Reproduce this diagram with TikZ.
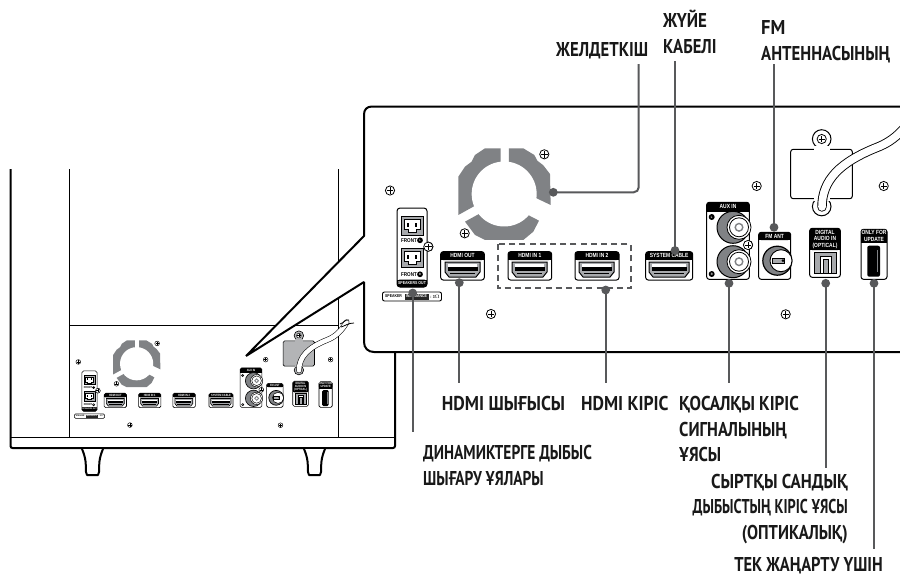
\documentclass[tikz,border=0pt]{standalone}
\usepackage{graphicx}
\usepackage{fontspec}
\newfontfamily\labf{PT Sans}[FakeStretch=0.77]
\newfontfamily\portf{Liberation Sans}[FakeStretch=0.82]
\definecolor{leader}{HTML}{58595B}
\definecolor{fangray}{HTML}{808285}
\definecolor{portgray}{HTML}{A7A9AC}
\def\pk{1}
\def\platefill{white}
\newcommand\wline[2]{\scalebox{#1}[1]{#2}}
\tikzset{
  lbl/.style={inner sep=0pt,font=\labf\bfseries\fontsize{20}{25.5}\selectfont,text=black!90},
  lead/.style={draw=leader,line width=2pt},
  leaddot/.style={fill=leader,draw=none},
  ink/.style={draw=black,line width=\pk*1pt},
  heavy/.style={draw=black,line width=2pt},
  thin/.style={draw=black,line width=1pt},
  porttext/.style={inner sep=0pt,text=white,font=\portf\bfseries\fontsize{6}{6.6}\selectfont,align=center},
  inktext/.style={inner sep=0pt,text=black,font=\portf\bfseries\fontsize{5.6}{6}\selectfont},
}
% box with a black title band: x1,y1,x2,y2,yband,name,text
\newcommand\portbox[7]{%
  \draw[ink,fill=white,rounded corners=\pk*2.5pt] (#1,#2) rectangle (#3,#4);
  \fill[black,rounded corners=\pk*2.5pt] (#1,#2) rectangle (#3,#5);
  \fill[black] (#1,#5-2.5) rectangle (#3,#5);
  \node[porttext,transform shape] (#6) at ({(#1+#3)/2},{(#2+#5)/2}) {#7};
}
% HDMI port, left x, right x, top y
\newcommand\hdmiport[3]{%
  \draw[draw=black,line width=\pk*1pt,fill=portgray]
     (#1,#3+1) -- (#2,#3+1) -- (#2,#3+11) -- (#2-4,#3+16) -- (#1+4,#3+16) -- (#1,#3+11) -- cycle;
  \fill[black] (#1+2.5,#3+6) rectangle (#2-2.5,#3+9.5);
  \fill[white] (#1+3,#3+3) rectangle (#2-3,#3+5.5);
  \fill[black] (#1+5,#3+12) rectangle (#2-5,#3+13);
}
% RCA jack
\newcommand\rcajack[2]{%
  \draw[draw=black,line width=\pk*1pt,fill=fangray] (#1,#2) circle (16);
  \draw[draw=black,line width=\pk*0.8pt,fill=white] (#1+6,#2) circle (12);
  \draw[draw=black,line width=\pk*0.8pt,fill=white] (#1+6,#2) circle (9.5);
  \draw[draw=fangray,line width=\pk*1.4pt,fill=white] (#1+6,#2) circle (3.8);
}
% speaker terminal
\newcommand\spkport[1]{%
  \draw[draw=black,line width=\pk*0.8pt,fill=portgray] (401,#1) rectangle (423,#1+18.5);
  \draw[draw=black,line width=\pk*0.6pt,fill=white] (404,#1+3) -- (420,#1+3) -- (420,#1+13) -- (416,#1+13) -- (416,#1+15.5) -- (408,#1+15.5) -- (408,#1+13) -- (404,#1+13) -- cycle;
  \fill[black] (407,#1+6) rectangle (409,#1+10);
  \fill[black] (415,#1+6) rectangle (417,#1+10);
}
\newcommand\screwmark[2]{%
  \draw[draw=black,line width=\pk*0.8pt,fill=white] (#1,#2) circle (4.6);
  \draw[draw=black,line width=\pk*0.8pt] (#1-3.2,#2) -- (#1+3.2,#2) (#1,#2-3.2) -- (#1,#2+3.2);
}
% everything on the rear panel, in the coordinates of the enlarged view
\newcommand\panelparts{%
  % fan
  \begin{scope}[shift={(440,100)},x=0.3333pt,y=-0.3333pt]
    \fill[fangray] (207,145) -- (250,145) -- (283,165) -- (292,182) -- (310,196) -- (330,222) -- (332,315) -- (290,295) -- (207,252) -- cycle;
    \fill[fangray] (182,145) -- (135,145) -- (105,165) -- (95,185) -- (75,200) -- (55,230) -- (55,345) -- (100,320) -- (182,275) -- cycle;
    \fill[fangray] (115,343) -- (190,303) -- (270,348) -- (297,362) -- (280,395) -- (250,420) -- (135,420) -- (105,405) -- (90,385) -- (75,365) -- cycle;
    \fill[white] (192.5,282) circle (97.5);
  \end{scope}
  % antenna plate and cable
  \draw[draw=black,line width=\pk*1pt,fill=\platefill] (821.7,139) circle (9.3);
  \draw[draw=black,line width=\pk*1pt,fill=\platefill] (821.7,206.5) circle (9.3);
  \draw[draw=black,line width=\pk*1pt,fill=\platefill,rounded corners=\pk*2.5pt] (790.7,149.3) rectangle (852.3,198.7);
  \fill[\platefill] (813.5,146) rectangle (830,152);
  \fill[\platefill] (813.5,196) rectangle (830,201);
  \draw[draw=black,line width=\pk*9.4pt,line cap=round] (822,207) .. controls (822,180) and (840,162) .. (878,147) .. controls (893,141) and (905,130) .. (915,113);
  \draw[draw=white,line width=\pk*7.6pt,line cap=round] (822,207) .. controls (822,180) and (840,162) .. (878,147) .. controls (893,141) and (905,130) .. (915,113);
  % screws
  \foreach \sx/\sy in {544.3/154.3,464.7/233.3,428.3/246.7,491/314,756.7/186,821.7/139,883.7/186,748/245,785.7/314.3,390/190.5}{\screwmark{\sx}{\sy}}
  % speaker output block
  \draw[draw=black,line width=\pk*1pt,fill=white,rounded corners=\pk*3pt] (397,208) rectangle (427,287);
  \spkport{216.5}
  \spkport{248.5}
  \node[inktext,transform shape] (frontl) at (409,240.3) {FRONT};
  \node[inktext,transform shape] (frontr) at (409,274.3) {FRONT};
  \fill[black] (420,240.3) circle (2.9);
  \fill[black] (420,274.3) circle (2.9);
  \node[porttext,transform shape,font=\portf\bfseries\fontsize{3}{3}\selectfont] (lmark) at (420,240.3) {L};
  \node[porttext,transform shape,font=\portf\bfseries\fontsize{3}{3}\selectfont] (rmark) at (420,274.3) {R};
  \fill[black,rounded corners=\pk*3pt] (397,279.5) rectangle (427,287);
  \fill[black] (397,279.5) rectangle (427,283);
  \node[porttext,transform shape,font=\portf\bfseries\fontsize{4.3}{4.3}\selectfont] (spkout) at (412,283) {SPEAKERS OUT};
  \screwmark{428.3}{246.7}
  \draw[draw=black,line width=\pk*0.9pt,fill=white,rounded corners=\pk*2pt] (382.5,292) rectangle (441.5,301);
  \fill[black!85] (404.5,293.5) rectangle (428.5,299.5);
  \node[inktext,transform shape,font=\portf\bfseries\fontsize{4.2}{4.2}\selectfont] (imp1) at (393.5,296.5) {SPEAKER};
  \node[porttext,transform shape,font=\portf\bfseries\fontsize{4.2}{4.2}\selectfont] (imp2) at (416.5,296.5) {IMPEDANCE};
  \node[inktext,transform shape,font=\portf\bfseries\fontsize{4.2}{4.2}\selectfont] (imp3) at (435,296.5) {: 3$\Omega$};
  % HDMI
  \portbox{440.7}{251.7}{484.3}{280}{260}{hdmiout}{HDMI OUT}
  \hdmiport{445}{480}{261}
  \portbox{508}{251.7}{551.7}{280}{260}{hdmione}{HDMI IN 1}
  \hdmiport{512}{547}{261}
  \portbox{575}{251.7}{619}{280}{260}{hdmitwo}{HDMI IN 2}
  \hdmiport{579}{614}{261}
  \portbox{645.7}{251.7}{692.7}{280}{260}{syscable}{SYSTEM CABLE}
  \hdmiport{649}{689}{261}
  % AUX
  \portbox{706.7}{202.3}{749.3}{279.3}{211.5}{auxin}{AUX IN}
  \rcajack{733}{227.3}
  \rcajack{733}{261.7}
  \fill[black] (711.7,217) circle (3);
  \fill[black] (711.7,274) circle (3);
  \node[porttext,transform shape,font=\portf\bfseries\fontsize{3.2}{3.2}\selectfont] (auxl) at (711.7,217) {L};
  \node[porttext,transform shape,font=\portf\bfseries\fontsize{3.2}{3.2}\selectfont] (auxr) at (711.7,274) {R};
  \screwmark{748}{245}
  % FM
  \portbox{758.7}{232.3}{790.7}{279.3}{240}{fmant}{FM ANT}
  \draw[draw=black,line width=\pk*1.2pt,fill=fangray] (777.3,260.7) circle (14.5);
  \draw[draw=black,line width=\pk*0.9pt,fill=white] (781,260.7) circle (11);
  \draw[draw=black,line width=\pk*0.7pt,fill=portgray] (772,258) rectangle (784,263.4);
  \fill[black] (783,260.7) circle (1.5);
  % optical
  \portbox{809.7}{228.3}{840.3}{277.3}{250}{optical}{DIGITAL\\AUDIO IN\\(OPTICAL)}
  \draw[draw=black,line width=\pk*0.8pt,fill=portgray] (814,252.7) rectangle (836.7,273.3);
  \draw[draw=black,line width=\pk*0.8pt,fill=white] (820,256.5) rectangle (831,273.3);
  \draw[draw=black,line width=\pk*0.6pt,fill=portgray] (823,259) rectangle (828,273.3);
  % update
  \portbox{861}{229.3}{887}{279.3}{242.7}{update}{ONLY FOR\\UPDATE}
  \fill[black,rounded corners=\pk*2pt] (867.3,245.7) rectangle (880,276.7);
  \draw[draw=fangray,line width=\pk*0.6pt] (877.5,250) -- (877.5,272);
}
\begin{document}
\begin{tikzpicture}[x=1pt,y=-1pt]
\useasboundingbox (0,0) rectangle (900,576);
% speaker body
\draw[heavy,rounded corners=2pt] (10.5,169) -- (10.5,448) -- (395,448) -- (395,340);
\draw[thin] (11,437) -- (395,437);
\draw[thin] (69,169) -- (69,437);
\draw[thin] (338.5,169) -- (338.5,437);
\draw[thin] (69,325) -- (338.5,325);
% feet
\draw[heavy,line join=round,fill=white] (82,449) .. controls (86,458) and (86,465) .. (86,472) -- (87,475) -- (98,475) -- (99,472) .. controls (99,465) and (99,458) .. (103,449);
\draw[heavy,line join=round,fill=white] (304,449) .. controls (308,458) and (308,465) .. (308,472) -- (309,475) -- (320,475) -- (321,472) .. controls (321,465) and (321,458) .. (325,449);
% small view of the panel
\begin{scope}[shift={(-121,264.6)},scale=0.511,name prefix=small-]
  \def\pk{0.6}
  \def\platefill{fangray!60}
  \panelparts
\end{scope}
% frayed cable end
\draw[draw=black,line width=0.8pt] (340,324) .. controls (344,323) and (345,319) .. (349,320);
\draw[draw=black,line width=0.8pt] (341,327) .. controls (345,326) and (348,323) .. (354,323);
% enlarged panel with its callout wedge
\fill[white] (900,106.5) -- (372,106.5) .. controls (367,106.5) and (364,109.5) .. (364,114.5) -- (364,236) -- (246,356) -- (364,282) -- (364,342) .. controls (364,348) and (368,352) .. (374,352) -- (900,352) -- cycle;
\begin{scope}
  \clip (364,106) rectangle (900,352);
  \begin{scope}[name prefix=big-]
    \panelparts
    \draw[draw=leader,line width=1.7pt,dash pattern=on 6pt off 4.2pt] (497.7,244.3) rectangle (630.7,288.3);
  \end{scope}
\end{scope}
\draw[heavy,line join=bevel] (900,106.5) -- (372,106.5) .. controls (367,106.5) and (364,109.5) .. (364,114.5) -- (364,236) -- (246,356) -- (364,282) -- (364,342) .. controls (364,348) and (368,352) .. (374,352) -- (900,352);
% labels (for several lines, the base anchor is the last line's baseline)
\node[lbl,anchor=base west] (lfan) at (556,56) {\wline{1.08}{ЖЕЛДЕТКІШ}};
\node[lbl,anchor=base west,align=left] (lcable) at (663,53) {\wline{1.1}{ЖҮЙЕ}\\\wline{1.08}{КАБЕЛІ}};
\node[lbl,anchor=base west,align=left] (lfm) at (761,60) {\wline{1.2}{FM}\\\wline{1.085}{АНТЕННАСЫНЫҢ}};
\node[lbl,anchor=base west] (lhdmiout) at (441.7,410.7) {\wline{1.15}{HDMI ШЫҒЫСЫ}};
\node[lbl,anchor=base west] (lhdmiin) at (581,410.7) {\wline{1.145}{HDMI КІРІС}};
\node[lbl,anchor=base west,align=left] (laux) at (679,461.7) {\wline{1.11}{ҚОСАЛҚЫ КІРІС}\\\wline{1.08}{СИГНАЛЫНЫҢ}\\\wline{1.08}{ҰЯСЫ}};
\node[lbl,anchor=base west,align=left] (lspk) at (423,485) {ДИНАМИКТЕРГЕ ДЫБЫС\\ШЫҒАРУ ҰЯЛАРЫ};
\node[lbl,anchor=base east,align=right] (lopt) at (848,539) {\wline{1.1}{СЫРТҚЫ САНДЫҚ}\\\wline{0.93}{ДЫБЫСТЫҢ КІРІС ҰЯСЫ}\\\wline{1.07}{(ОПТИКАЛЫҚ)}};
\node[lbl,anchor=base east] (lupd) at (883,571.5) {\wline{1.065}{ТЕК ЖАҢАРТУ ҮШІН}};
% leader lines
\foreach \nm/\px/\py in {dfan/553.3/192.3,dcable/675/250.5,dfm/774/227.3,dspk/412.7/293,dhout/459.3/282.7,dhin/605.7/290,daux/729/283.3,dopt/825.7/283.3,dupd/874/283.3}{
  \coordinate (\nm) at (\px,\py);
  \fill[leaddot] (\px,\py) circle (4.4);
}
\coordinate (fantop) at (638.7,64);
\draw[lead,rounded corners=5pt] (dfan) -| (fantop);
\draw[lead,shorten >=8pt] (dcable) -- (dcable |- lcable.south);
\draw[lead,shorten >=1pt] (dfm) -- (dfm |- lfm.south);
\draw[lead,shorten >=13pt] (dspk) -- (dspk |- lspk.north);
\draw[lead,shorten >=13pt] (dhout) -- (dhout |- lhdmiout.north);
\draw[lead,shorten >=13pt] (dhin) -- (dhin |- lhdmiin.north);
\draw[lead,shorten >=13pt] (daux) -- (daux |- laux.north);
\draw[lead,shorten >=6pt] (dopt) -- (dopt |- lopt.north);
\draw[lead,shorten >=8pt] (dupd) -- (dupd |- lupd.north);
\end{tikzpicture}
\end{document}
